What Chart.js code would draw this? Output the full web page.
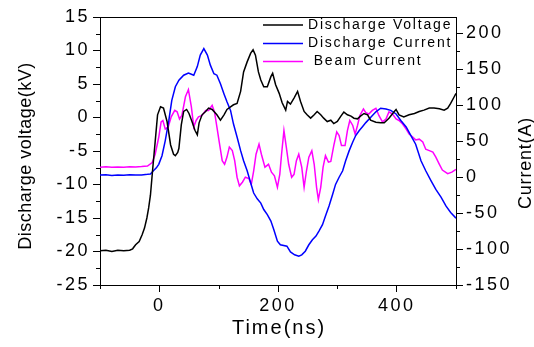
<!DOCTYPE html>
<html>
<head>
<meta charset="utf-8">
<script src="https://cdn.jsdelivr.net/npm/chart.js@4.4.0/dist/chart.umd.min.js"></script>
<style>
  body { margin: 0; background: #fff; }
  canvas { display: block; }
</style>
</head>
<body>
<canvas id="myChart" width="534" height="347"></canvas>
<script>
// discharge voltage (kV) vs time (ns)
var voltTime = [-100,-90,-80,-70,-60,-50,-45,-40,-34,-29,-25,-21,-18,-15,-11,-7,-3,2,7,13,19,24,27,31,33,37,41,46,50,55,60,64,67,72,78,83,89,97,103,109,114,120,125,131,137,142,148,154,158,162,167,171,176,182,188,191,196,202,207,213,216,221,227,233,238,244,249,255,261,266,272,277,283,289,294,300,306,311,317,323,328,334,339,345,351,356,365,373,379,387,396,399,404,412,421,430,438,446,455,463,472,480,486,491,497,500];
var voltKV = [-19.9,-19.8,-20.0,-19.8,-19.9,-19.8,-19.6,-19.0,-18.5,-17.5,-16.5,-15.0,-13.5,-11.6,-7.5,-3.6,0.4,1.6,1.4,-0.6,-4.1,-5.5,-5.7,-5.2,-4.6,-1.1,0.9,1.2,0.6,-0.6,-1.9,-2.6,-0.8,0.4,0.9,1.4,1.2,0.4,-0.4,0.4,1.2,1.6,1.9,2.1,3.9,6.8,8.3,9.6,10.1,9.3,6.8,5.6,4.6,4.6,6.1,6.6,4.9,3.6,2.2,1.1,2.4,2.0,2.9,3.9,2.4,0.9,0.4,-0.1,0.4,0.9,0.4,-0.1,-0.6,-0.4,-0.9,-0.6,0.2,0.8,0.4,0.2,-0.1,-0.2,0.2,0.6,0.4,-0.4,-0.7,-0.8,-0.8,-0.1,0.9,1.2,0.4,0.1,0.4,0.6,0.9,1.1,1.4,1.4,1.3,1.1,1.4,2.1,3.1,3.6];

// discharge current (A) vs time (ns)
var curTime = [-100,-90,-80,-70,-60,-50,-40,-30,-20,-15,-10,-5,-1,4.5,10,16,21,27,33,41,49,52,58,64,69,75,81,86,92,97,103,109,114,120,125,131,137,142,148,154,159,165,171,176,182,188,193,199,204,215,221,228,235,240,246,252,258,264,269,275,280,286,292,297,303,309,314,320,326,331,337,342,348,356,365,373,382,390,399,407,416,424,432,441,449,458,466,475,483,491,500];
var curA = [3,3.5,2.5,3.2,2.8,3.5,3,3.2,4,4.5,8.9,13,18,30,51,79,107,126,135,142,145,144,142,154,170,179,170,156,144,142,130,116,105,93,74,56,37,23,9,-8,-22,-30,-36,-45,-52,-61,-73,-89,-94,-96,-104,-108,-110,-108,-103,-94,-87,-82,-75,-66,-54,-40,-24,-10,0,9,23,37,49,58,65,70,76,83,91,96,95,93,88,79,70,58,46,23,9,-5,-17,-28,-40,-49,-57];

// beam current (A) vs time (ns)
var beamTime = [-100,-90,-80,-70,-60,-50,-40,-30,-20,-12,-7,-1,3,6,10,15,20,26,30,34,38,44,49,54,58,62,66,72,78,83,89,93,97,101,106,110,114,118,123,127,131,135,140,145,151,155,159,163,168,172,178,184,189,194,199,203,206,210,214,218,223,227,231,235,240,244,248,252,257,261,265,268,272,276,280,285,289,294,299,303,307,313,317,321,326,330,334,338,344,348,353,359,365,370,376,382,387,393,399,404,410,416,421,427,432,438,444,449,455,461,466,472,477,486,493,500];
var beamA = [14,14.5,13.8,14.2,14,14.6,14.3,14.8,15.5,20.5,32,55.6,77,79,67,70,84,93,91,81,86,112,122,98,70,79,84,86,93,93,100,91,70,49,23,18,28,42,37,23,0,-12,-7,0,-2,-10,9,32,46,32,14,18,7,2,-14,4,32,65,42,18,0,4,23,32,14,-14,9,28,37,18,-14,-31,-14,14,30,21,22,44,63,58,44,44,65,79,72,60,72,86,95,90,88,93,96,86,77,81,91,88,81,79,74,67,60,56,52,53,49,39,37,35,28,18,10,5,7,11];

var seriesNames = ['Discharge Voltage', 'Discharge Current', ' Beam Current'];
var seriesColors = ['#000000', '#0000ff', '#ff00ff'];

var xTicks = [0, 200, 400];
var xMinor = [-100, 100, 300, 500];
var kvTicks = [-25, -20, -15, -10, -5, 0, 5, 10, 15];
var kvMinor = [-22.5, -17.5, -12.5, -7.5, -2.5, 2.5, 7.5, 12.5];
var aTicks = [-150, -100, -50, 0, 50, 100, 150, 200];
var aMinor = [-125, -75, -25, 25, 75, 125, 175];

var xTitle = 'Time(ns)';
var kvTitle = 'Discharge voltage(kV)';
var aTitle = 'Current(A)';

var FONT = '"Liberation Sans", Arial, sans-serif';

function toPoints(xs, ys) {
  return xs.map(function (x, i) { return { x: x, y: ys[i] }; });
}

function setTicks(list) {
  return function (scale) { scale.ticks = list.map(function (v) { return { value: v }; }); };
}

var decor = {
  id: 'decor',
  beforeDraw: function (chart) {
    chart.ctx.letterSpacing = '2.5px';
  },
  afterDraw: function (chart) {
    var ctx = chart.ctx, a = chart.chartArea, s = chart.scales;
    ctx.save();
    ctx.strokeStyle = '#000';
    ctx.lineWidth = 1;
    ctx.beginPath();
    // top frame line
    ctx.moveTo(a.left, a.top + 0.5);
    ctx.lineTo(a.right, a.top + 0.5);
    // minor ticks
    xMinor.forEach(function (v) {
      var p = Math.round(s.x.getPixelForValue(v)) + 0.5;
      ctx.moveTo(p, a.bottom); ctx.lineTo(p, a.bottom + 4);
    });
    kvMinor.forEach(function (v) {
      var p = Math.round(s.y.getPixelForValue(v)) + 0.5;
      ctx.moveTo(a.left, p); ctx.lineTo(a.left - 4, p);
    });
    aMinor.forEach(function (v) {
      var p = Math.round(s.y1.getPixelForValue(v)) + 0.5;
      ctx.moveTo(a.right, p); ctx.lineTo(a.right + 4, p);
    });
    ctx.stroke();

    // axis titles
    ctx.fillStyle = '#000';
    ctx.textAlign = 'center';
    ctx.textBaseline = 'middle';
    ctx.font = '20px ' + FONT;
    ctx.letterSpacing = '2px';
    ctx.fillText(xTitle, 279, 328);

    ctx.font = '18px ' + FONT;
    ctx.letterSpacing = '0.5px';
    ctx.save();
    ctx.translate(26, 156);
    ctx.rotate(-Math.PI / 2);
    ctx.fillText(kvTitle, 0, 0);
    ctx.restore();

    ctx.letterSpacing = '0.8px';
    ctx.save();
    ctx.translate(526, 163);
    ctx.rotate(-Math.PI / 2);
    ctx.fillText(aTitle, 0, 0);
    ctx.restore();

    // legend
    var rows = [25, 43.5, 61.5];
    ctx.font = '14px ' + FONT;
    ctx.letterSpacing = '1.8px';
    ctx.textAlign = 'left';
    chart.data.datasets.forEach(function (ds, i) {
      ctx.strokeStyle = ds.borderColor;
      ctx.lineWidth = 1.5;
      ctx.beginPath();
      ctx.moveTo(263, rows[i]);
      ctx.lineTo(303, rows[i]);
      ctx.stroke();
      ctx.fillText(ds.label, 308, rows[i]);
    });
    ctx.restore();
  }
};

var ctx = document.getElementById('myChart').getContext('2d');
var myChart = new Chart(ctx, {
  type: 'line',
  data: {
    datasets: [
      { label: seriesNames[0], data: toPoints(voltTime, voltKV), yAxisID: 'y', borderColor: seriesColors[0] },
      { label: seriesNames[1], data: toPoints(curTime, curA), yAxisID: 'y1', borderColor: seriesColors[1] },
      { label: seriesNames[2], data: toPoints(beamTime, beamA), yAxisID: 'y1', borderColor: seriesColors[2] }
    ]
  },
  options: {
    responsive: false,
    animation: false,
    devicePixelRatio: 1,
    layout: { padding: { top: 17, left: 0, right: 0, bottom: 0 } },
    elements: {
      line: { borderWidth: 1.5, tension: 0, fill: false },
      point: { radius: 0 }
    },
    plugins: { legend: { display: false }, tooltip: { enabled: false } },
    scales: {
      x: {
        type: 'linear', min: -100, max: 500,
        afterBuildTicks: setTicks(xTicks),
        afterFit: function (scale) { scale.height = 62; },
        grid: { drawOnChartArea: false, drawTicks: true, tickLength: 7, color: '#000' },
        border: { display: true, color: '#000', width: 1 },
        ticks: { color: '#000', font: { family: FONT, size: 18 }, padding: 3, maxRotation: 0 }
      },
      y: {
        type: 'linear', position: 'left', min: -25, max: 15,
        afterBuildTicks: setTicks(kvTicks),
        afterFit: function (scale) { scale.width = 100; },
        grid: { drawOnChartArea: false, drawTicks: true, tickLength: 7, color: '#000' },
        border: { display: true, color: '#000', width: 1 },
        ticks: { color: '#000', font: { family: FONT, size: 18 }, padding: 3 }
      },
      y1: {
        type: 'linear', position: 'right', min: -150, max: 223,
        afterBuildTicks: setTicks(aTicks),
        afterFit: function (scale) { scale.width = 78; },
        grid: { drawOnChartArea: false, drawTicks: true, tickLength: 7, color: '#000' },
        border: { display: true, color: '#000', width: 1 },
        ticks: { color: '#000', font: { family: FONT, size: 18 }, padding: 3 }
      }
    }
  },
  plugins: [decor]
});
</script>
</body>
</html>
